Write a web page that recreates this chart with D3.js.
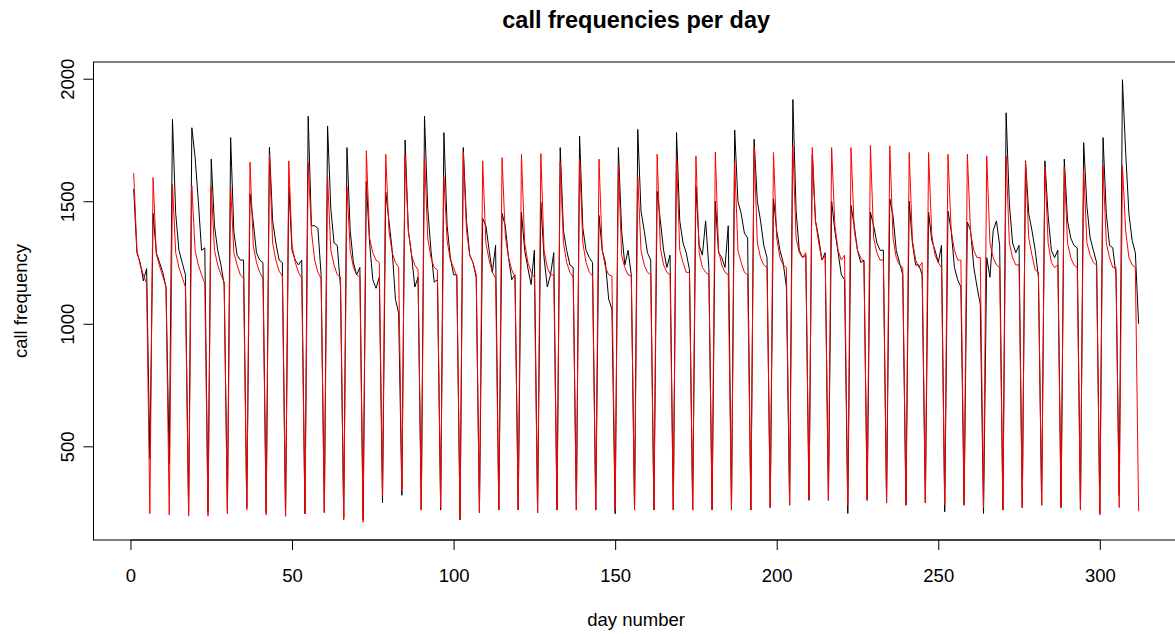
<!DOCTYPE html>
<html>
<head>
<meta charset="utf-8">
<script src="https://cdn.jsdelivr.net/npm/d3@7/dist/d3.min.js"></script>
<style>
  body { margin: 0; background: #fff; }
  svg { display: block; }
  text { font-family: "Liberation Sans", Arial, sans-serif; fill: #000; }
</style>
</head>
<body>
<svg id="chart" width="1175" height="634"></svg>
<script>
// observed calls per day (black), one row = one 6-day cycle
const actual = [
  1550, 1290, 1250, 1175, 1225, 450,
  1450, 1290, 1250, 1210, 1150, 430,
  1834, 1450, 1300, 1250, 1200, 230,
  1800, 1680, 1500, 1300, 1310, 230,
  1672, 1400, 1300, 1240, 1160, 240,
  1760, 1375, 1280, 1260, 1260, 250,
  1530, 1415, 1290, 1260, 1250, 230,
  1720, 1420, 1330, 1260, 1250, 215,
  1563, 1300, 1260, 1240, 1260, 225,
  1847, 1400, 1400, 1390, 1200, 230,
  1807, 1470, 1330, 1320, 1150, 210,
  1719, 1380, 1250, 1200, 1230, 200,
  1580, 1330, 1180, 1145, 1190, 270,
  1537, 1420, 1300, 1100, 1043, 300,
  1750, 1380, 1280, 1150, 1190, 240,
  1847, 1470, 1300, 1170, 1180, 240,
  1780, 1400, 1270, 1200, 1200, 200,
  1719, 1420, 1280, 1250, 1190, 230,
  1430, 1400, 1300, 1210, 1320, 240,
  1450, 1400, 1270, 1180, 1200, 240,
  1455, 1300, 1226, 1160, 1300, 230,
  1496, 1270, 1150, 1200, 1290, 240,
  1719, 1380, 1300, 1240, 1230, 240,
  1766, 1390, 1300, 1270, 1250, 240,
  1442, 1300, 1250, 1100, 1060, 225,
  1719, 1380, 1240, 1300, 1200, 240,
  1793, 1460, 1380, 1290, 1260, 240,
  1540, 1420, 1300, 1230, 1280, 240,
  1780, 1420, 1330, 1290, 1220, 240,
  1560, 1320, 1280, 1420, 1230, 240,
  1500, 1290, 1270, 1230, 1400, 240,
  1791, 1500, 1450, 1370, 1350, 240,
  1753, 1500, 1420, 1320, 1270, 250,
  1510, 1380, 1300, 1250, 1150, 260,
  1915, 1460, 1300, 1270, 1280, 280,
  1690, 1420, 1350, 1260, 1290, 280,
  1500, 1380, 1290, 1200, 1180, 226,
  1483, 1400, 1300, 1250, 1260, 280,
  1456, 1400, 1330, 1300, 1300, 270,
  1510, 1440, 1300, 1250, 1200, 260,
  1500, 1330, 1240, 1240, 1200, 270,
  1456, 1340, 1300, 1250, 1320, 233,
  1460, 1380, 1230, 1180, 1150, 260,
  1415, 1380, 1230, 1150, 1080, 226,
  1270, 1190, 1380, 1420, 1320, 240,
  1861, 1490, 1330, 1290, 1320, 250,
  1665, 1450, 1380, 1300, 1190, 260,
  1665, 1440, 1300, 1270, 1300, 250,
  1672, 1420, 1350, 1320, 1310, 240,
  1739, 1480, 1350, 1300, 1250, 226,
  1760, 1450, 1320, 1310, 1200, 300,
  1996, 1700, 1450, 1340, 1290, 1000
];

// fitted calls per day (red)
const fitted = [
  1615, 1300, 1240, 1200, 1165, 225,
  1597, 1285, 1235, 1195, 1150, 220,
  1570, 1290, 1230, 1190, 1150, 215,
  1563, 1300, 1240, 1200, 1165, 215,
  1560, 1300, 1240, 1200, 1170, 225,
  1560, 1290, 1240, 1200, 1185, 240,
  1660, 1320, 1250, 1210, 1185, 220,
  1690, 1330, 1260, 1215, 1195, 215,
  1665, 1320, 1250, 1210, 1185, 225,
  1658, 1380, 1260, 1210, 1185, 230,
  1600, 1300, 1240, 1200, 1190, 200,
  1560, 1300, 1230, 1200, 1190, 190,
  1706, 1350, 1290, 1260, 1250, 300,
  1692, 1380, 1290, 1250, 1230, 320,
  1690, 1380, 1280, 1240, 1220, 240,
  1690, 1350, 1270, 1230, 1220, 250,
  1600, 1340, 1260, 1230, 1190, 200,
  1700, 1380, 1280, 1250, 1200, 230,
  1665, 1330, 1260, 1210, 1185, 240,
  1678, 1360, 1270, 1220, 1190, 240,
  1692, 1330, 1250, 1210, 1190, 230,
  1695, 1300, 1230, 1200, 1200, 240,
  1660, 1330, 1250, 1210, 1190, 240,
  1672, 1330, 1250, 1210, 1195, 240,
  1672, 1300, 1230, 1200, 1195, 240,
  1650, 1280, 1230, 1200, 1195, 240,
  1600, 1300, 1240, 1210, 1200, 240,
  1692, 1310, 1240, 1210, 1200, 240,
  1680, 1300, 1250, 1210, 1210, 240,
  1685, 1290, 1230, 1210, 1200, 240,
  1701, 1300, 1240, 1210, 1200, 240,
  1660, 1300, 1250, 1210, 1200, 240,
  1720, 1330, 1270, 1240, 1230, 250,
  1699, 1350, 1270, 1240, 1230, 260,
  1726, 1350, 1290, 1270, 1290, 280,
  1719, 1420, 1330, 1260, 1280, 280,
  1719, 1400, 1300, 1260, 1280, 260,
  1719, 1380, 1300, 1270, 1250, 280,
  1728, 1350, 1290, 1260, 1260, 270,
  1726, 1350, 1270, 1240, 1230, 260,
  1699, 1340, 1260, 1230, 1250, 270,
  1699, 1360, 1280, 1250, 1230, 260,
  1692, 1380, 1300, 1260, 1260, 260,
  1692, 1370, 1300, 1270, 1270, 250,
  1685, 1330, 1270, 1240, 1230, 240,
  1685, 1330, 1270, 1240, 1240, 250,
  1660, 1350, 1280, 1220, 1210, 260,
  1640, 1330, 1250, 1230, 1240, 250,
  1640, 1330, 1270, 1240, 1230, 240,
  1631, 1330, 1280, 1250, 1240, 220,
  1645, 1330, 1270, 1230, 1230, 250,
  1645, 1380, 1270, 1240, 1230, 235
];

const xTicks = [0, 50, 100, 150, 200, 250, 300];
const yTicks = [500, 1000, 1500, 2000];

const title = "call frequencies per day";
const xTitle = "day number";
const yTitle = "call frequency";

// plot region, R style: the right edge falls just outside the picture
const plot = {left: 93.5, right: 1178.8, top: 62, bottom: 540};

const svg = d3.select("#chart");
const days = d3.range(1, actual.length + 1);

// R pads both ranges by 4%
function padded(lo, hi) {
    const p = (hi - lo) * 0.04;
    return [lo - p, hi + p];
}

const x = d3.scaleLinear()
    .domain(padded(1, days.length))
    .range([plot.left, plot.right]);

const allVals = actual.concat(fitted);
const y = d3.scaleLinear()
    .domain(padded(d3.min(allVals), d3.max(allVals)))
    .range([plot.bottom, plot.top]);

const line = d3.line()
    .x((d, i) => x(days[i]))
    .y(d => y(d));

const lines = svg.append("g").attr("id", "lines");

lines.append("path")
    .datum(actual)
    .attr("fill", "none")
    .attr("stroke", "#000")
    .attr("stroke-width", 1)
    .attr("d", line);

lines.append("path")
    .datum(fitted)
    .attr("fill", "none")
    .attr("stroke", "#ff0000")
    .attr("stroke-width", 1)
    .attr("d", line);

// box around the plot
svg.append("rect")
    .attr("x", plot.left)
    .attr("y", plot.top)
    .attr("width", plot.right - plot.left)
    .attr("height", plot.bottom - plot.top)
    .attr("fill", "none")
    .attr("stroke", "#000")
    .attr("stroke-width", 1);

const fmt = d3.format("d");

const xAxis = svg.append("g")
    .attr("transform", `translate(0,${plot.bottom})`)
    .call(d3.axisBottom(x).tickValues(xTicks).tickFormat(fmt).tickSize(10).tickPadding(19));

const yAxis = svg.append("g")
    .attr("transform", `translate(${plot.left},0)`)
    .call(d3.axisLeft(y).tickValues(yTicks).tickFormat(fmt).tickSize(10).tickPadding(0));

for (const ax of [xAxis, yAxis]) {
    ax.select(".domain").remove();
    ax.selectAll("line").attr("stroke", "#000");
    ax.selectAll("text")
        .attr("font-size", "18.5px")
        .attr("font-family", "Liberation Sans, Arial, sans-serif")
        .attr("fill", "#000");
}

// y tick labels are turned, as R does by default
yAxis.selectAll(".tick text")
    .attr("x", null).attr("dy", null)
    .attr("text-anchor", "middle")
    .attr("transform", "translate(-26,0) rotate(-90)")
    .attr("dominant-baseline", "central");

// axis line only spans first to last tick
svg.append("line")
    .attr("x1", x(xTicks[0])).attr("x2", x(xTicks[xTicks.length - 1]))
    .attr("y1", plot.bottom).attr("y2", plot.bottom)
    .attr("stroke", "#000");

svg.append("text")
    .attr("x", (plot.left + plot.right) / 2)
    .attr("y", 20)
    .attr("text-anchor", "middle")
    .attr("dominant-baseline", "central")
    .attr("font-size", "23.5px")
    .attr("font-weight", "bold")
    .text(title);

svg.append("text")
    .attr("x", (plot.left + plot.right) / 2)
    .attr("y", 619)
    .attr("text-anchor", "middle")
    .attr("dominant-baseline", "central")
    .attr("font-size", "18.5px")
    .text(xTitle);

svg.append("text")
    .attr("transform", `translate(20,${(plot.top + plot.bottom) / 2}) rotate(-90)`)
    .attr("text-anchor", "middle")
    .attr("dominant-baseline", "central")
    .attr("font-size", "18.5px")
    .text(yTitle);
</script>
</body>
</html>
